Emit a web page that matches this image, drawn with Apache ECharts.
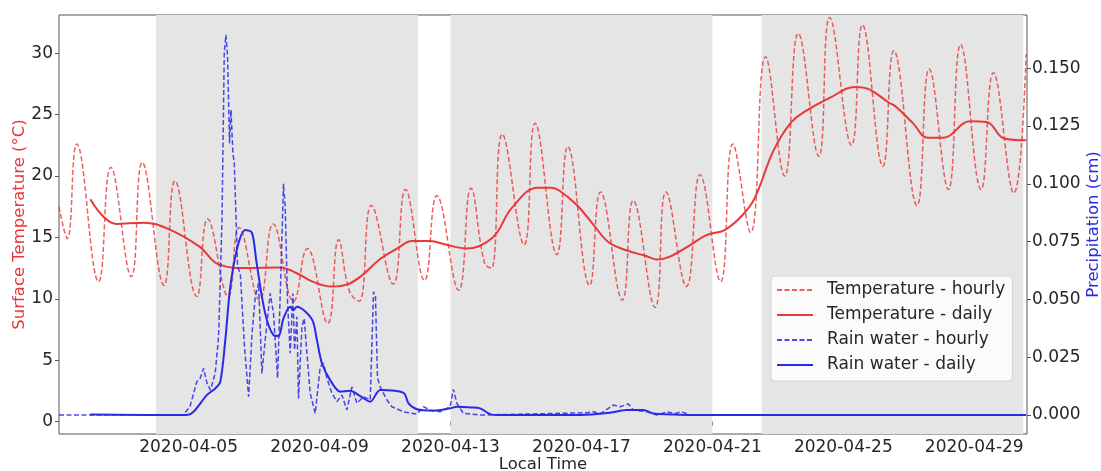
<!DOCTYPE html>
<html>
<head>
<meta charset="utf-8">
<script src="https://cdn.jsdelivr.net/npm/echarts@6/dist/echarts.min.js"></script>
<style>
  html, body { margin: 0; padding: 0; background: #ffffff; }
  #chart { width: 1101px; height: 471px; }
</style>
</head>
<body>
<div id="chart"></div>
<script>
// Hourly surface temperature (°C): daily minima / maxima and shoulders
const tempHourly = [
  ['2020-04-01 01:00', 17.5], ['2020-04-01 07:00', 14.9], ['2020-04-01 14:00', 22.6],
  ['2020-04-02 06:00', 11.4], ['2020-04-02 15:00', 20.7],
  ['2020-04-03 06:00', 11.8], ['2020-04-03 14:00', 21.1],
  ['2020-04-04 06:00', 11.1], ['2020-04-04 14:00', 19.6],
  ['2020-04-05 06:00', 10.2], ['2020-04-05 14:00', 16.5],
  ['2020-04-06 05:00', 10.2], ['2020-04-06 13:00', 15.8],
  ['2020-04-07 04:00', 9.9],  ['2020-04-07 14:00', 16.1],
  ['2020-04-08 05:00', 9.8],  ['2020-04-08 15:00', 14.1],
  ['2020-04-09 06:00', 8.0],  ['2020-04-09 14:00', 14.8], ['2020-04-09 22:00', 10.6],
  ['2020-04-10 05:00', 9.8],  ['2020-04-10 14:00', 17.6],
  ['2020-04-11 06:00', 11.2], ['2020-04-11 15:00', 18.9],
  ['2020-04-12 05:00', 11.5], ['2020-04-12 14:00', 18.4],
  ['2020-04-13 06:00', 10.7], ['2020-04-13 15:00', 19.0],
  ['2020-04-14 01:00', 12.9], ['2020-04-14 06:00', 12.5], ['2020-04-14 14:00', 23.4],
  ['2020-04-15 06:00', 14.4], ['2020-04-15 14:00', 24.3],
  ['2020-04-16 06:00', 13.6], ['2020-04-16 14:00', 22.4],
  ['2020-04-17 06:00', 11.1], ['2020-04-17 14:00', 18.7],
  ['2020-04-18 06:00', 9.9],  ['2020-04-18 14:00', 18.0],
  ['2020-04-19 06:00', 9.3],  ['2020-04-19 14:00', 18.7],
  ['2020-04-20 05:00', 11.0], ['2020-04-20 15:00', 20.1],
  ['2020-04-21 06:00', 11.4], ['2020-04-21 15:00', 22.6],
  ['2020-04-22 04:00', 15.4], ['2020-04-22 15:00', 29.7],
  ['2020-04-23 05:00', 20.0], ['2020-04-23 15:00', 31.6],
  ['2020-04-24 06:00', 21.6], ['2020-04-24 14:00', 32.9],
  ['2020-04-25 06:00', 22.5], ['2020-04-25 14:00', 32.3],
  ['2020-04-26 05:00', 20.8], ['2020-04-26 13:00', 30.2],
  ['2020-04-27 06:00', 17.6], ['2020-04-27 15:00', 28.7],
  ['2020-04-28 05:00', 18.9], ['2020-04-28 14:00', 30.7],
  ['2020-04-29 05:00', 18.9], ['2020-04-29 14:00', 28.4],
  ['2020-04-30 05:00', 18.6], ['2020-04-30 14:00', 29.9]
];

// 24-hour mean surface temperature (°C)
const tempDaily = [
  ['2020-04-02 00:00', 18.1], ['2020-04-02 19:00', 16.1], ['2020-04-03 15:00', 16.2],
  ['2020-04-04 09:00', 15.7], ['2020-04-05 08:00', 14.25], ['2020-04-05 22:00', 12.8],
  ['2020-04-06 19:00', 12.5], ['2020-04-07 19:00', 12.55], ['2020-04-08 07:00', 12.1],
  ['2020-04-08 19:00', 11.4], ['2020-04-09 09:00', 11.0], ['2020-04-09 21:00', 11.2],
  ['2020-04-10 07:00', 11.9], ['2020-04-10 20:00', 13.2], ['2020-04-11 09:00', 14.1],
  ['2020-04-11 20:00', 14.7], ['2020-04-12 09:00', 14.7], ['2020-04-12 21:00', 14.4],
  ['2020-04-13 12:00', 14.1], ['2020-04-14 07:00', 15.0], ['2020-04-14 21:00', 17.4],
  ['2020-04-15 16:00', 19.05], ['2020-04-16 02:00', 19.05], ['2020-04-16 08:00', 18.8],
  ['2020-04-16 21:00', 17.6], ['2020-04-17 09:00', 16.0], ['2020-04-17 20:00', 14.6],
  ['2020-04-18 09:00', 13.95], ['2020-04-18 23:00', 13.5], ['2020-04-19 08:00', 13.2],
  ['2020-04-19 19:00', 13.55], ['2020-04-20 08:00', 14.4], ['2020-04-20 20:00', 15.2],
  ['2020-04-21 09:00', 15.6], ['2020-04-21 22:00', 16.8], ['2020-04-22 07:00', 18.2],
  ['2020-04-22 21:00', 22.1], ['2020-04-23 10:00', 24.4], ['2020-04-23 20:00', 25.25],
  ['2020-04-24 14:00', 26.35], ['2020-04-25 09:00', 27.25], ['2020-04-25 19:00', 27.05],
  ['2020-04-26 09:00', 26.0], ['2020-04-26 15:00', 25.6], ['2020-04-27 03:00', 24.3],
  ['2020-04-27 14:00', 23.1], ['2020-04-28 01:00', 23.1], ['2020-04-28 21:00', 24.45],
  ['2020-04-29 09:00', 24.4], ['2020-04-29 22:00', 23.05], ['2020-04-30 14:00', 22.9]
];

// Hourly rain water (cm)
const rainHourly = [
  ['2020-04-01 01:00', 0], ['2020-04-04 20:00', 0],
  ['2020-04-05 01:00', 0.0036], ['2020-04-05 06:00', 0.0144], ['2020-04-05 08:30', 0.0159],
  ['2020-04-05 11:00', 0.0202], ['2020-04-05 13:30', 0.0137], ['2020-04-05 16:00', 0.0108],
  ['2020-04-05 19:30', 0.0180], ['2020-04-05 22:00', 0.0339],
  ['2020-04-06 00:30', 0.0843], ['2020-04-06 02:10', 0.1570], ['2020-04-06 03:25', 0.1644],
  ['2020-04-06 04:35', 0.1550], ['2020-04-06 06:00', 0.1175], ['2020-04-06 07:05', 0.1320],
  ['2020-04-06 08:30', 0.1130], ['2020-04-06 09:30', 0.1090], ['2020-04-06 11:55', 0.0641],
  ['2020-04-06 13:55', 0.0613], ['2020-04-06 17:00', 0.0295], ['2020-04-06 20:00', 0.0079],
  ['2020-04-06 22:30', 0.0353],
  ['2020-04-07 00:55', 0.0512], ['2020-04-07 03:20', 0.0570], ['2020-04-07 05:45', 0.0180],
  ['2020-04-07 08:10', 0.0324], ['2020-04-07 11:50', 0.0526], ['2020-04-07 14:15', 0.0440],
  ['2020-04-07 17:15', 0.0159], ['2020-04-07 19:40', 0.0613], ['2020-04-07 21:35', 0.1000],
  ['2020-04-07 22:50', 0.0900],
  ['2020-04-08 00:35', 0.0483], ['2020-04-08 02:30', 0.0267], ['2020-04-08 04:30', 0.0526],
  ['2020-04-08 05:40', 0.0281], ['2020-04-08 07:25', 0.0425], ['2020-04-08 08:35', 0.0072],
  ['2020-04-08 11:05', 0.0382], ['2020-04-08 12:45', 0.0418], ['2020-04-08 14:45', 0.0267],
  ['2020-04-08 17:10', 0.0094], ['2020-04-08 20:50', 0.0007],
  ['2020-04-09 00:30', 0.0209], ['2020-04-09 02:55', 0.0224], ['2020-04-09 05:25', 0.0159],
  ['2020-04-09 09:05', 0.0094], ['2020-04-09 12:45', 0.0058], ['2020-04-09 16:25', 0.0087],
  ['2020-04-09 20:05', 0.0022], ['2020-04-09 23:45', 0.0122],
  ['2020-04-10 03:25', 0.0051], ['2020-04-10 08:15', 0.0079], ['2020-04-10 13:10', 0.0065],
  ['2020-04-10 15:35', 0.0533], ['2020-04-10 17:00', 0.0512], ['2020-04-10 18:30', 0.0159],
  ['2020-04-10 20:30', 0.0122], ['2020-04-10 22:55', 0.0094],
  ['2020-04-11 01:25', 0.0065], ['2020-04-11 05:05', 0.0036], ['2020-04-11 13:35', 0.0014],
  ['2020-04-11 23:20', 0.0004],
  ['2020-04-12 04:15', 0.0036], ['2020-04-12 09:05', 0.0022], ['2020-04-12 16:25', 0.0014],
  ['2020-04-12 23:45', 0.0036],
  ['2020-04-13 02:10', 0.0111], ['2020-04-13 04:40', 0.0051], ['2020-04-13 09:30', 0.0007],
  ['2020-04-13 21:45', 0],
  ['2020-04-17 03:55', 0.0010], ['2020-04-17 08:50', 0.0014], ['2020-04-17 13:40', 0.0005],
  ['2020-04-17 23:25', 0.0043], ['2020-04-18 04:20', 0.0036], ['2020-04-18 10:25', 0.0048],
  ['2020-04-18 14:05', 0.0022], ['2020-04-18 23:55', 0.0014], ['2020-04-19 07:15', 0],
  ['2020-04-19 14:35', 0.0014], ['2020-04-19 20:40', 0.0007], ['2020-04-20 01:35', 0.0014],
  ['2020-04-20 07:40', 0], ['2020-04-30 14:00', 0]
];

// 24-hour mean rain water (cm)
const rainDaily = [
  ['2020-04-02 00:00', 0.0002], ['2020-04-04 22:50', 0],
  ['2020-04-05 03:40', 0.0014], ['2020-04-05 13:30', 0.0087], ['2020-04-05 19:35', 0.0115],
  ['2020-04-05 23:15', 0.0144], ['2020-04-06 02:55', 0.0324], ['2020-04-06 06:35', 0.0555],
  ['2020-04-06 11:55', 0.0728], ['2020-04-06 17:35', 0.0800], ['2020-04-06 22:25', 0.0789],
  ['2020-04-07 01:35', 0.0670], ['2020-04-07 05:45', 0.0512], ['2020-04-07 09:25', 0.0411],
  ['2020-04-07 14:15', 0.0346], ['2020-04-07 17:55', 0.0342], ['2020-04-07 21:35', 0.0418],
  ['2020-04-08 02:30', 0.0468], ['2020-04-08 04:55', 0.0454], ['2020-04-08 07:25', 0.0468],
  ['2020-04-08 18:25', 0.0414], ['2020-04-08 22:05', 0.0324], ['2020-04-09 01:45', 0.0224],
  ['2020-04-09 07:50', 0.0151], ['2020-04-09 15:10', 0.0101], ['2020-04-09 22:30', 0.0105],
  ['2020-04-10 05:50', 0.0082], ['2020-04-10 13:10', 0.0058], ['2020-04-10 20:30', 0.0108],
  ['2020-04-11 13:35', 0.0096], ['2020-04-11 17:15', 0.0050], ['2020-04-11 23:20', 0.0025],
  ['2020-04-12 11:30', 0.0019], ['2020-04-12 23:45', 0.0029], ['2020-04-13 04:40', 0.0036],
  ['2020-04-13 14:25', 0.0033], ['2020-04-13 21:45', 0.0029], ['2020-04-14 05:05', 0.0004],
  ['2020-04-14 12:25', 0], ['2020-04-16 23:00', 0], ['2020-04-17 21:00', 0.0010],
  ['2020-04-18 09:15', 0.0022], ['2020-04-18 21:25', 0.0022], ['2020-04-19 04:45', 0.0007],
  ['2020-04-21 00:40', 0], ['2020-04-30 14:00', 0]
];

// Shaded periods
const shadedPeriods = [
  ['2020-04-04 00:00', '2020-04-12 00:00'],
  ['2020-04-13 00:00', '2020-04-21 00:00'],
  ['2020-04-22 12:00', '2020-04-30 12:00']
];

// Axis ticks
const dateTicks = ['2020-04-05', '2020-04-09', '2020-04-13', '2020-04-17', '2020-04-21', '2020-04-25', '2020-04-29'];
const tempTicks = [0, 5, 10, 15, 20, 25, 30];
const rainTicks = [0, 0.025, 0.05, 0.075, 0.1, 0.125, 0.15];

const timeRange = ['2020-04-01 01:00', '2020-04-30 14:40'];

function ts(s) {
  const parts = s.split(' ');
  const [Y, M, D] = parts[0].split('-').map(Number);
  const [h, m] = (parts[1] || '00:00').split(':').map(Number);
  return new Date(Y, M - 1, D, h, m).getTime();
}
function pad(n) { return (n < 10 ? '0' : '') + n; }
function toPairs(arr) { return arr.map(p => [ts(p[0]), p[1]]); }

const FONT = 'DejaVu Sans';
const TEXT = '#262626';
const FRAME = '#555555';
const RED = '#e8383a';
const BLUE = '#2a2ae6';

const chart = echarts.init(document.getElementById('chart'), null, { renderer: 'canvas' });

chart.setOption({
  animation: false,
  backgroundColor: '#ffffff',
  textStyle: { fontFamily: FONT },
  grid: {
    left: 59, right: 74, top: 15, bottom: 37,
    outerBoundsMode: 'none', containLabel: false,
    show: true, borderColor: FRAME, borderWidth: 1, backgroundColor: 'transparent'
  },
  legend: {
    orient: 'vertical',
    left: 771, top: 276,
    padding: [5, 7, 7, 5],
    itemWidth: 36, itemHeight: 14, itemGap: 7,
    backgroundColor: 'rgba(255,255,255,0.85)',
    borderColor: '#d4d4d4', borderWidth: 1, borderRadius: 4,
    itemStyle: { opacity: 0 },
    textStyle: { fontFamily: FONT, fontSize: 17, color: TEXT, lineHeight: 18, padding: [0, 0, 0, 9] },
    data: ['Temperature - hourly', 'Temperature - daily', 'Rain water - hourly', 'Rain water - daily']
  },
  xAxis: {
    // timestamps on a linear axis, labelled as dates
    type: 'value',
    min: ts(timeRange[0]), max: ts(timeRange[1]),
    name: 'Local Time', nameLocation: 'middle', nameGap: 22, nameMoveOverlap: false,
    nameTextStyle: { fontFamily: FONT, fontSize: 16.5, color: TEXT },
    axisLine: { show: false },
    axisTick: { show: true, length: 4, lineStyle: { color: FRAME }, customValues: dateTicks.map(d => ts(d)) },
    axisLabel: {
      fontFamily: FONT, fontSize: 17, color: TEXT, margin: 5,
      customValues: dateTicks.map(d => ts(d)),
      formatter: v => { const d = new Date(v); return d.getFullYear() + '-' + pad(d.getMonth() + 1) + '-' + pad(d.getDate()); }
    },
    splitLine: { show: false }
  },
  yAxis: [
    {
      type: 'value', min: -1.0, max: 33.1,
      name: 'Surface Temperature (°C)', nameLocation: 'middle', nameGap: 31, nameMoveOverlap: false,
      nameTextStyle: { fontFamily: FONT, fontSize: 16.5, color: RED },
      axisLine: { show: false },
      axisTick: { show: true, length: 4, lineStyle: { color: FRAME }, customValues: tempTicks },
      axisLabel: { fontFamily: FONT, fontSize: 17, color: TEXT, margin: 6, customValues: tempTicks },
      splitLine: { show: false }
    },
    {
      type: 'value', min: -0.0082, max: 0.173, position: 'right',
      name: 'Precipitation (cm)', nameLocation: 'middle', nameGap: 58, nameMoveOverlap: false,
      nameTextStyle: { fontFamily: FONT, fontSize: 16.5, color: BLUE },
      axisLine: { show: false },
      axisTick: { show: true, length: 4, lineStyle: { color: FRAME }, customValues: rainTicks },
      axisLabel: { fontFamily: FONT, fontSize: 17, color: TEXT, margin: 5, customValues: rainTicks,
        formatter: v => v.toFixed(3) },
      splitLine: { show: false }
    }
  ],
  series: [
    {
      name: 'Temperature - hourly', type: 'line', yAxisIndex: 0, z: 2,
      data: toPairs(tempHourly), symbol: 'none', smooth: 0.45,
      lineStyle: { color: RED, width: 1.5, type: [5, 2.5], opacity: 0.8 },
      itemStyle: { color: RED },
      markArea: {
        silent: true,
        itemStyle: { color: '#e5e5e5' },
        data: shadedPeriods.map(p => [{ xAxis: ts(p[0]) }, { xAxis: ts(p[1]) }])
      }
    },
    {
      name: 'Temperature - daily', type: 'line', yAxisIndex: 0, z: 3,
      data: toPairs(tempDaily), symbol: 'none', smooth: 0.4,
      lineStyle: { color: RED, width: 2 },
      itemStyle: { color: RED }
    },
    {
      name: 'Rain water - hourly', type: 'line', yAxisIndex: 1, z: 4,
      data: toPairs(rainHourly), symbol: 'none', smooth: false,
      lineStyle: { color: BLUE, width: 1.5, type: [5, 2.5], opacity: 0.85 },
      itemStyle: { color: BLUE }
    },
    {
      name: 'Rain water - daily', type: 'line', yAxisIndex: 1, z: 5,
      data: toPairs(rainDaily), symbol: 'none', smooth: 0.3,
      lineStyle: { color: BLUE, width: 2 },
      itemStyle: { color: BLUE }
    }
  ]
});
</script>
</body>
</html>
